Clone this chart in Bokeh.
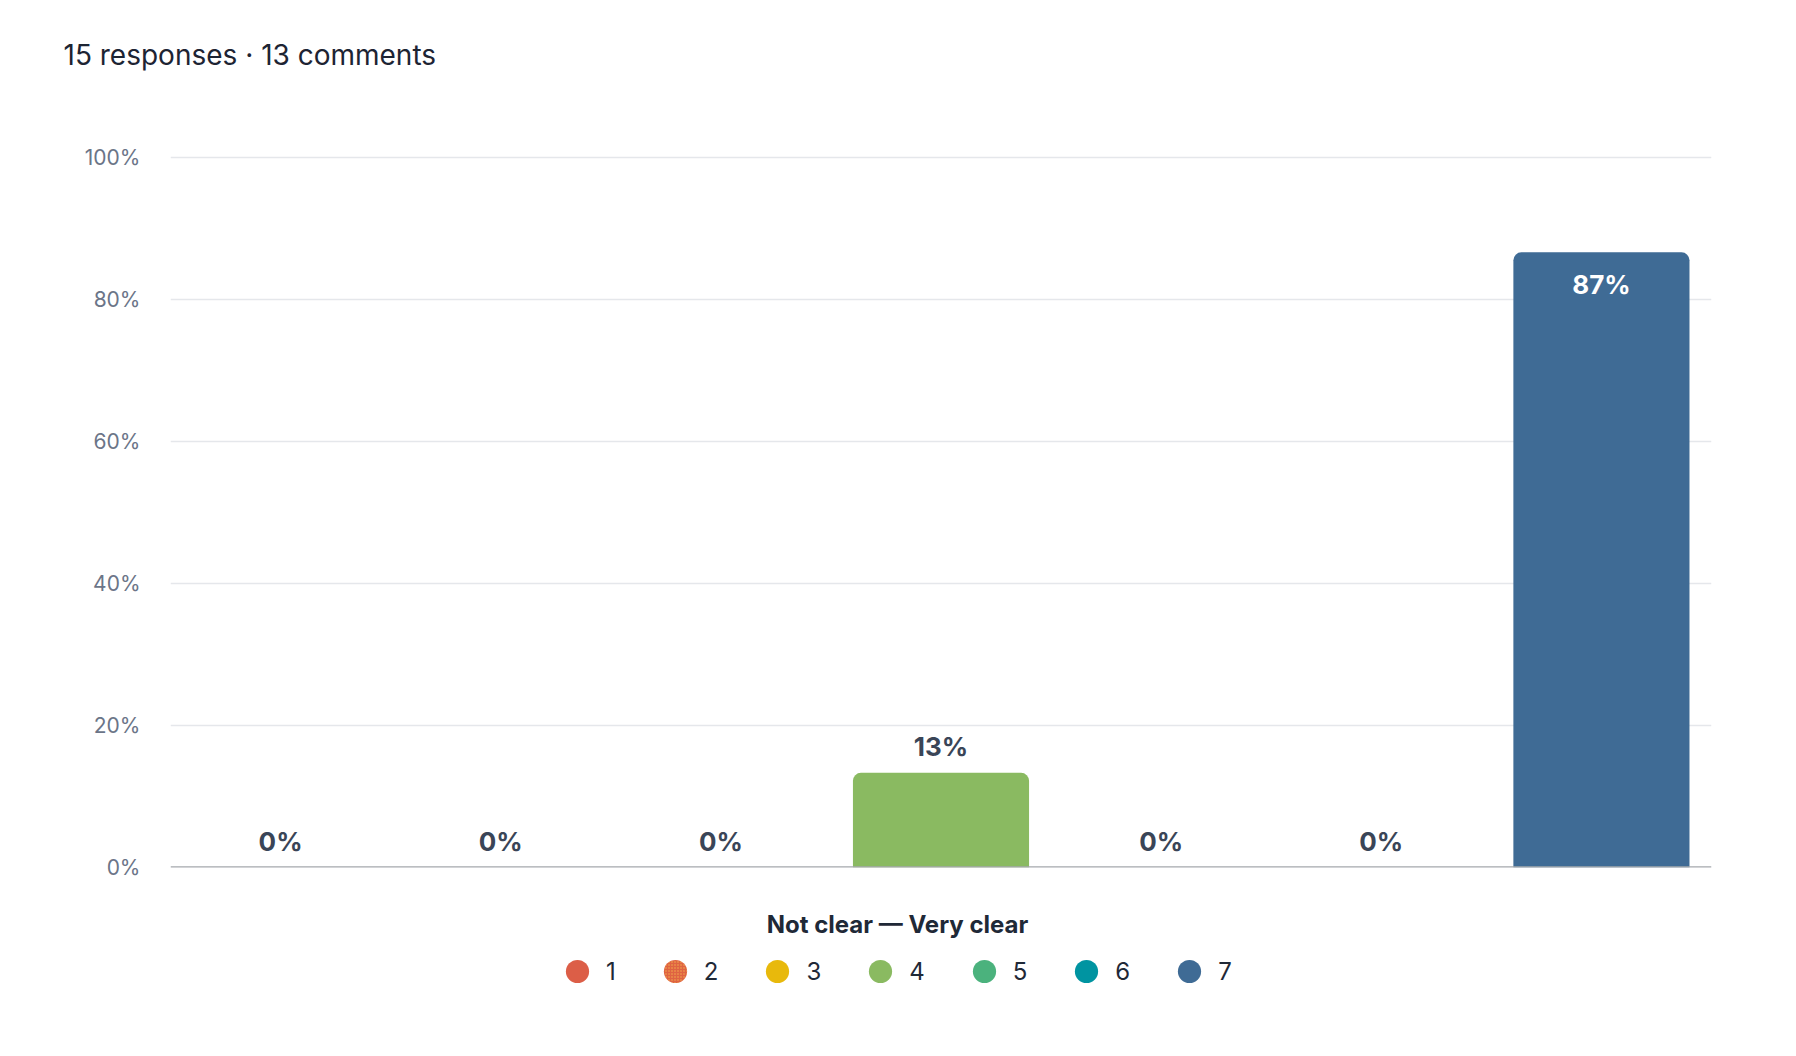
from bokeh.plotting import figure
from bokeh.layouts import column
from bokeh.models import (ColumnDataSource, FactorRange, Range1d, FixedTicker, Label,
                          Legend, LegendItem, NumeralTickFormatter, Span)
from bokeh.core.properties import value
from bokeh.embed import file_html
from bokeh.resources import INLINE

# ---------------- data ----------------
categories = ["1", "2", "3", "4", "5", "6", "7"]
counts = [0, 0, 0, 2, 0, 0, 13]
total_responses = 15
total_comments = 13
colors = ["#dc5e47", "#df6342", "#e8b90c", "#8aba61", "#4bb27d", "#0094a1", "#3f6b95"]
hatches = [" ", ".", " ", " ", " ", " ", " "]
y_ticks = [0, 0.2, 0.4, 0.6, 0.8, 1.0]
scale_title = "Not clear \u2014 Very clear"
chart_title = f"{total_responses} responses \u00b7 {total_comments} comments"

shares = [c / total_responses for c in counts]
labels = [f"{round(100 * s)}%" for s in shares]

FONT = "Inter"
W = 1780
LEFT, RIGHT = 170, 69


def blank_fig(h, **kw):
    f = figure(width=W, height=h, x_range=Range1d(0, 1), y_range=Range1d(0, 1),
               x_axis_location=None, y_axis_location=None,
               min_border_left=LEFT, min_border_right=RIGHT,
               output_backend="svg", toolbar_location=None, **kw)
    f.outline_line_color = None
    f.grid.visible = False
    f.background_fill_color = "white"
    f.border_fill_color = "white"
    return f


# ---------------- header (title only) ----------------
p0 = blank_fig(110, title=chart_title, min_border_top=106, min_border_bottom=0)
p0.title.text_font = FONT
p0.title.text_font_size = "28px"
p0.title.text_font_style = "normal"
p0.title.text_color = "#1d2433"
p0.title.align = "left"
p0.title.offset = -107
p0.title.standoff = 70

# ---------------- main chart ----------------
p = figure(width=W, height=780,
           x_range=FactorRange(factors=categories, range_padding=0),
           y_range=Range1d(0, 1.02),
           output_backend="svg", toolbar_location=None,
           min_border_left=LEFT, min_border_right=RIGHT,
           min_border_top=33, min_border_bottom=23)
p.outline_line_color = None
p.background_fill_color = "white"
p.border_fill_color = "white"

p.yaxis.ticker = FixedTicker(ticks=y_ticks)
p.yaxis.formatter = NumeralTickFormatter(format="0%")
p.yaxis.axis_line_color = None
p.yaxis.major_tick_line_color = None
p.yaxis.minor_tick_line_color = None
p.yaxis.major_tick_in = 0
p.yaxis.major_tick_out = 0
p.yaxis.major_label_standoff = 30
p.yaxis.major_label_text_font = FONT
p.yaxis.major_label_text_font_size = "21px"
p.yaxis.major_label_text_color = "#6b7588"

p.ygrid.ticker = FixedTicker(ticks=y_ticks)
p.ygrid.grid_line_color = "#e5e7eb"
p.ygrid.grid_line_width = 1.5
p.xgrid.grid_line_color = None
p.xaxis.visible = False

src = ColumnDataSource(dict(cat=categories, share=shares, color=colors,
                            hatch=hatches, label=labels))

p.vbar(x="cat", top="share", width=0.8, source=src, fill_color="color",
       line_color=None, border_radius=(8, 8, 0, 0))

p.add_layout(Span(location=0, dimension="width", line_color="#a5a8ad", line_width=2.5))

out_idx = [i for i, s in enumerate(shares) if s <= 0.5]
in_idx = [i for i, s in enumerate(shares) if s > 0.5]
out_src = ColumnDataSource(dict(cat=[categories[i] for i in out_idx],
                                share=[shares[i] for i in out_idx],
                                label=[labels[i] for i in out_idx]))
in_src = ColumnDataSource(dict(cat=[categories[i] for i in in_idx],
                               share=[shares[i] for i in in_idx],
                               label=[labels[i] for i in in_idx]))
p.text(x="cat", y="share", text="label", source=out_src, text_align="center",
       text_baseline="middle", y_offset=-26, text_font=value(FONT),
       text_font_style="bold", text_font_size="26px", text_color="#3a4557")
p.text(x="cat", y="share", text="label", source=in_src, text_align="center",
       text_baseline="middle", y_offset=32, text_font=value(FONT),
       text_font_style="bold", text_font_size="26px", text_color="white")

# ---------------- legend area ----------------
p2 = blank_fig(150, min_border_top=0, min_border_bottom=0)
leg_src = ColumnDataSource(dict(cat=categories, color=colors, hatch=hatches,
                                x=[float("nan")] * len(categories),
                                y=[float("nan")] * len(categories)))
leg_r = p2.scatter(x="x", y="y", source=leg_src, marker="circle", size=23,
                   fill_color="color", line_color=None, hatch_pattern="hatch",
                   hatch_color="#f2b04a", hatch_scale=3, hatch_weight=1)

p2.add_layout(Label(x=727, y=116, x_units="screen", y_units="screen", text=scale_title,
                    text_font=FONT, text_font_size="24px", text_font_style="bold",
                    text_color="#1f2937", text_align="center", text_baseline="alphabetic"))

items = [LegendItem(label=c, renderers=[leg_r], index=i) for i, c in enumerate(categories)]
legend = Legend(items=items, orientation="horizontal", location=(378, 40),
                border_line_color=None, background_fill_alpha=0,
                padding=0, margin=0, spacing=30, label_standoff=0,
                glyph_width=58, glyph_height=58, label_width=1, label_height=1,
                label_text_font=FONT, label_text_font_size="24px",
                label_text_color="#1f2937", label_text_baseline="middle")
p2.add_layout(legend)

layout = column(p0, p, p2, spacing=0)
open("out.html", "w").write(file_html(layout, INLINE))
